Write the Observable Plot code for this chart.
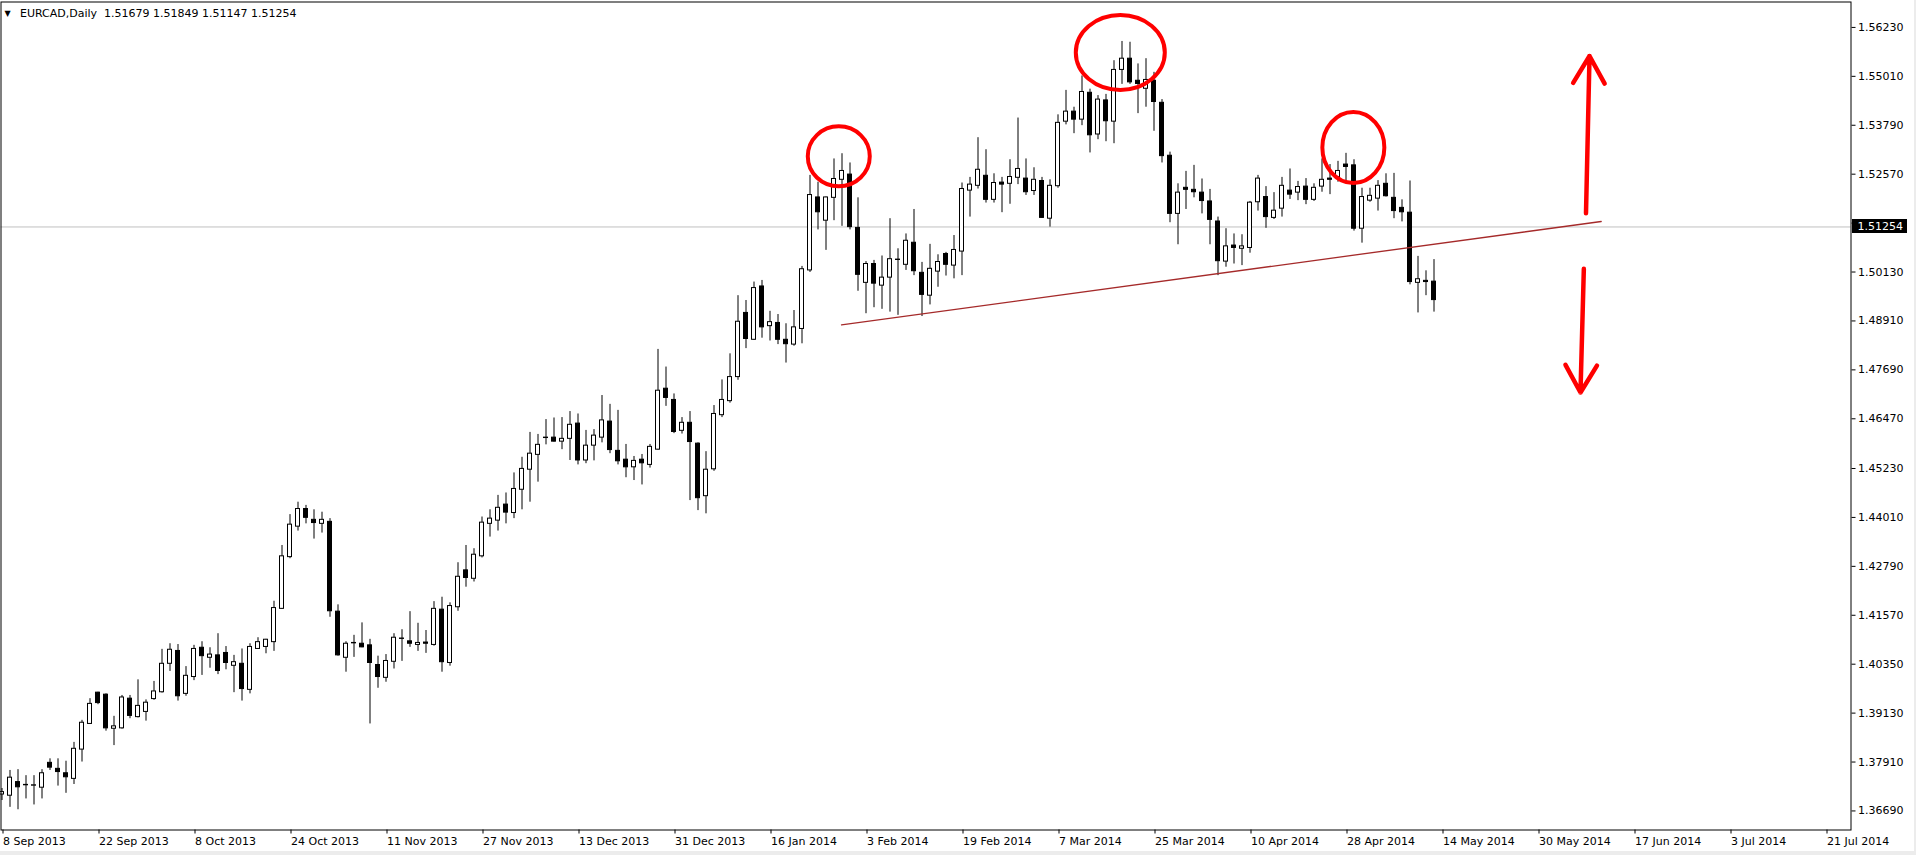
<!DOCTYPE html>
<html>
<head>
<meta charset="utf-8">
<script src="https://cdn.jsdelivr.net/npm/d3@7"></script>
<script src="https://cdn.jsdelivr.net/npm/@observablehq/plot@0.6"></script>
<style>
  html, body { margin: 0; padding: 0; background: #ffffff; }
  #chart { position: relative; width: 1916px; height: 855px; overflow: hidden; }
  #chart svg { display: block; }
  .edge-r { position: absolute; left: 1914px; top: 0; width: 2px; height: 855px; background: #ececec; }
  .edge-b { position: absolute; left: 0; top: 851px; width: 1916px; height: 4px; background: #ececec; }
</style>
</head>
<body>
<div id="chart"><div class="edge-r"></div><div class="edge-b"></div></div>
<script>
// ---------- data ----------
const symbol = "EURCAD,Daily";
const quote = [1.51679, 1.51849, 1.51147, 1.51254];
const bid = 1.51254;

const tickLabels = ["8 Sep 2013","22 Sep 2013","8 Oct 2013","24 Oct 2013","11 Nov 2013","27 Nov 2013",
  "13 Dec 2013","31 Dec 2013","16 Jan 2014","3 Feb 2014","19 Feb 2014","7 Mar 2014","25 Mar 2014",
  "10 Apr 2014","28 Apr 2014","14 May 2014","30 May 2014","17 Jun 2014","3 Jul 2014","21 Jul 2014"];
const tickBars = [0,12,24,36,48,60,72,84,96,108,120,132,144,156,168,180,192,204,216,228];

const priceTicks = [1.56230,1.55010,1.53790,1.52570,1.51350,1.50130,1.48910,1.47690,1.46470,
  1.45230,1.44010,1.42790,1.41570,1.40350,1.39130,1.37910,1.36690];
const hiddenPriceTick = 1.51350; // its label sits under the bid box

const opens = [
1.3710,1.3707,1.3741,1.3733,1.3732,1.3727,1.3789,1.3774,1.3763,1.3749,
1.3822,1.3886,1.3964,1.3959,1.3874,1.3875,1.3949,1.3903,1.3916,1.3948,
1.3965,1.4036,1.4068,1.3961,1.4003,1.4076,1.4051,1.4057,1.4063,1.4031,
1.4036,1.3971,1.4073,1.4078,1.4090,1.4173,1.4302,1.4378,1.4422,1.4395,
1.4385,1.4390,1.4166,1.4051,1.4088,1.4086,1.4082,1.4033,1.4001,1.4041,
1.4098,1.4092,1.4083,1.4089,1.4083,1.4171,1.4038,1.4177,1.4269,1.4248,
1.4304,1.4385,1.4393,1.4433,1.4412,1.4470,1.4520,1.4557,1.4599,1.4600,
1.4590,1.4597,1.4635,1.4543,1.4580,1.4600,1.4640,1.4567,1.4545,1.4526,
1.4545,1.4532,1.4570,1.4722,1.4694,1.4617,1.4637,1.4585,1.4454,1.4521,
1.4656,1.4691,1.4751,1.4911,1.4844,1.4977,1.4878,1.4886,1.4844,1.4832,
1.4871,1.5017,1.5199,1.5141,1.5198,1.5243,1.5256,1.5123,1.4986,1.5033,
1.4979,1.4999,1.5044,1.5031,1.5086,1.5011,1.4954,1.5014,1.5058,1.5029,
1.5064,1.5216,1.5228,1.5253,1.5193,1.5236,1.5233,1.5248,1.5246,1.5215,
1.5240,1.5146,1.5227,1.5388,1.5413,1.5393,1.5460,1.5356,1.5441,1.5388,
1.5517,1.5545,1.5490,1.5470,1.5490,1.5435,1.5303,1.5158,1.5223,1.5218,
1.5211,1.5189,1.5139,1.5039,1.5079,1.5071,1.5073,1.5187,1.5200,1.5148,
1.5171,1.5216,1.5211,1.5226,1.5193,1.5226,1.5246,1.5250,1.5281,1.5279,
1.5121,1.5191,1.5196,1.5233,1.5198,1.5173,1.5161,1.4986,1.4991,1.4989];

const highs = [
1.3725,1.3770,1.3772,1.3757,1.3757,1.3772,1.3799,1.3799,1.3793,1.3840,
1.3895,1.3949,1.3965,1.3961,1.3905,1.3957,1.3957,1.3996,1.3946,1.3992,
1.4072,1.4086,1.4084,1.4029,1.4082,1.4091,1.4076,1.4111,1.4079,1.4057,
1.4073,1.4086,1.4101,1.4097,1.4192,1.4331,1.4408,1.4439,1.4431,1.4420,
1.4414,1.4398,1.4183,1.4091,1.4107,1.4138,1.4097,1.4055,1.4059,1.4111,
1.4121,1.4166,1.4137,1.4119,1.4191,1.4202,1.4188,1.4288,1.4331,1.4323,
1.4402,1.4420,1.4456,1.4462,1.4512,1.4551,1.4613,1.4608,1.4645,1.4649,
1.4650,1.4665,1.4659,1.4618,1.4620,1.4705,1.4683,1.4668,1.4583,1.4553,
1.4558,1.4583,1.4820,1.4776,1.4709,1.4650,1.4665,1.4587,1.4565,1.4680,
1.4744,1.4809,1.4954,1.4942,1.4988,1.4992,1.4915,1.4907,1.4884,1.4917,
1.5027,1.5254,1.5237,1.5200,1.5295,1.5308,1.5285,1.5198,1.5039,1.5042,
1.5053,1.5146,1.5071,1.5108,1.5169,1.5037,1.5082,1.5056,1.5062,1.5104,
1.5235,1.5249,1.5348,1.5318,1.5258,1.5249,1.5293,1.5397,1.5295,1.5273,
1.5249,1.5243,1.5405,1.5466,1.5424,1.5502,1.5469,1.5453,1.5456,1.5540,
1.5588,1.5586,1.5532,1.5545,1.5511,1.5443,1.5312,1.5233,1.5264,1.5279,
1.5245,1.5219,1.5150,1.5121,1.5108,1.5106,1.5189,1.5254,1.5226,1.5211,
1.5249,1.5270,1.5239,1.5246,1.5233,1.5295,1.5281,1.5289,1.5309,1.5293,
1.5222,1.5222,1.5241,1.5258,1.5259,1.5193,1.5240,1.5052,1.5016,1.5044];

const lows = [
1.3695,1.3678,1.3672,1.3699,1.3684,1.3699,1.3770,1.3731,1.3713,1.3735,
1.3791,1.3885,1.3934,1.3868,1.3832,1.3873,1.3899,1.3901,1.3893,1.3945,
1.3963,1.4017,1.3943,1.3955,1.3994,1.4007,1.4025,1.4009,1.4021,1.3964,
1.3943,1.3961,1.4072,1.4061,1.4067,1.4172,1.4298,1.4367,1.4385,1.4347,
1.4362,1.4152,1.4055,1.4015,1.4052,1.4076,1.3886,1.3975,1.3990,1.4023,
1.4042,1.4077,1.4067,1.4062,1.4080,1.4015,1.4030,1.4167,1.4227,1.4240,
1.4300,1.4352,1.4367,1.4385,1.4398,1.4420,1.4439,1.4489,1.4582,1.4589,
1.4570,1.4543,1.4532,1.4535,1.4542,1.4587,1.4560,1.4532,1.4500,1.4493,
1.4482,1.4524,1.4569,1.4678,1.4610,1.4609,1.4443,1.4418,1.4410,1.4516,
1.4650,1.4686,1.4743,1.4822,1.4843,1.4848,1.4841,1.4832,1.4786,1.4828,
1.4834,1.5012,1.5118,1.5067,1.5141,1.5127,1.5118,1.4965,1.4909,1.4924,
1.4920,1.4913,1.4905,1.5017,1.5004,1.4902,1.4931,1.4975,1.5003,1.4996,
1.5004,1.5150,1.5220,1.5185,1.5185,1.5161,1.5182,1.5231,1.5204,1.5204,
1.5147,1.5125,1.5222,1.5380,1.5358,1.5378,1.5310,1.5343,1.5338,1.5333,
1.5481,1.5481,1.5408,1.5424,1.5364,1.5285,1.5136,1.5081,1.5169,1.5198,
1.5158,1.5081,1.5004,1.5025,1.5033,1.5029,1.5060,1.5165,1.5122,1.5144,
1.5150,1.5194,1.5191,1.5181,1.5189,1.5212,1.5206,1.5237,1.5241,1.5115,
1.5085,1.5187,1.5165,1.5200,1.5146,1.5138,1.4981,1.4911,1.4954,1.4913];

const closes = [
1.3716,1.3752,1.3728,1.3734,1.3733,1.3763,1.3777,1.3766,1.3753,1.3824,
1.3889,1.3936,1.3938,1.3875,1.3880,1.3952,1.3906,1.3931,1.3939,1.3967,
1.4036,1.4071,1.3955,1.4006,1.4073,1.4055,1.4059,1.4018,1.4038,1.4040,
1.3973,1.4078,1.4090,1.4096,1.4175,1.4304,1.4383,1.4422,1.4400,1.4387,
1.4395,1.4167,1.4057,1.4086,1.4087,1.4077,1.4038,1.4003,1.4043,1.4101,
1.4099,1.4086,1.4088,1.4086,1.4173,1.4040,1.4180,1.4253,1.4250,1.4308,
1.4388,1.4398,1.4425,1.4413,1.4472,1.4522,1.4560,1.4582,1.4600,1.4590,
1.4597,1.4632,1.4543,1.4580,1.4605,1.4643,1.4569,1.4541,1.4526,1.4542,
1.4536,1.4577,1.4717,1.4699,1.4614,1.4637,1.4589,1.4449,1.4520,1.4659,
1.4694,1.4751,1.4889,1.4846,1.4973,1.4875,1.4888,1.4844,1.4833,1.4875,
1.5020,1.5205,1.5162,1.5199,1.5245,1.5265,1.5125,1.5006,1.5033,1.4984,
1.4999,1.5045,1.5043,1.5091,1.5015,1.4956,1.5021,1.5038,1.5031,1.5068,
1.5220,1.5231,1.5268,1.5193,1.5235,1.5231,1.5250,1.5270,1.5212,1.5243,
1.5148,1.5228,1.5385,1.5413,1.5393,1.5462,1.5354,1.5443,1.5389,1.5517,
1.5545,1.5486,1.5482,1.5492,1.5437,1.5302,1.5158,1.5211,1.5218,1.5212,
1.5190,1.5143,1.5040,1.5077,1.5073,1.5077,1.5186,1.5246,1.5150,1.5166,
1.5228,1.5206,1.5225,1.5193,1.5223,1.5243,1.5243,1.5265,1.5275,1.5121,
1.5200,1.5203,1.5228,1.5202,1.5165,1.5162,1.4988,1.4995,1.4988,1.4943];

// annotations (bar index, price)
const trendBars = [104.94, 199.9];
const trendPrices = [1.48814, 1.51390];
const circleBars = [104.66, 139.85, 168.98];
const circlePrices = [1.53003, 1.55592, 1.53223];
const arrowFromBars = [198.0, 197.73];
const arrowFromPrices = [1.51597, 1.50210];
const arrowToBars = [198.44, 197.31];
const arrowToPrices = [1.55517, 1.47125];

// ---------- chart ----------
const candles = opens.map((o, i) => ({i, open: o, high: highs[i], low: lows[i], close: closes[i]}));
const fmt = d3.format(".5f");
const FONT = "DejaVu Sans, Verdana, sans-serif";
const RED = "#ff0000";
const ellipseR = [[31, 30], [44.5, 37.5], [31, 35.5]];

const chart = Plot.plot({
  width: 1916,
  height: 855,
  marginLeft: 0.5,
  marginRight: 65.5,
  marginTop: 1.5,
  marginBottom: 25.5,
  x: {domain: [-0.125, 231.125], axis: null, label: null},
  y: {domain: [1.36215, 1.56864], axis: null, label: null},
  color: {type: "identity"},
  style: {fontFamily: FONT, fontSize: "11px", color: "#000", background: "transparent", overflow: "visible"},
  marks: [
    Plot.ruleY([bid], {stroke: "#c0c0c0", strokeWidth: 1}),
    Plot.ruleX(candles, {x: "i", y1: "low", y2: "high", stroke: "#000", strokeWidth: 1}),
    Plot.rect(candles, {
      x1: d => d.i - 0.25, x2: d => d.i + 0.25,
      y1: "open", y2: "close",
      fill: d => d.close >= d.open ? "#ffffff" : "#000000",
      stroke: "#000", strokeWidth: 1
    }),
    Plot.line(trendBars, {x: trendBars, y: trendPrices, stroke: "#a52a2a", strokeWidth: 1.3}),
    (index, scales) => {
      const g = d3.create("svg:g");
      circleBars.forEach((b, k) => {
        g.append("ellipse")
          .attr("cx", scales.x(b)).attr("cy", scales.y(circlePrices[k]))
          .attr("rx", ellipseR[k][0]).attr("ry", ellipseR[k][1])
          .attr("fill", "none").attr("stroke", RED).attr("stroke-width", 4);
      });
      return g.node();
    },
    Plot.arrow(arrowFromBars, {
      x1: arrowFromBars, y1: arrowFromPrices, x2: arrowToBars, y2: arrowToPrices,
      stroke: RED, strokeWidth: 4.5, headLength: 10.5, headAngle: 60
    }),
    Plot.frame({stroke: "#000"}),
    Plot.axisY(priceTicks, {
      anchor: "right", tickSize: 4, tickPadding: 3, label: null,
      tickFormat: d => d === hiddenPriceTick ? "" : fmt(d),
      fontSize: 11, stroke: "#000", fill: "#000"
    }),
    Plot.axisX(tickBars, {
      anchor: "bottom", tickSize: 4, tickPadding: 3, textAnchor: "start", dx: 1, label: null,
      tickFormat: d => tickLabels[tickBars.indexOf(d)],
      fontSize: 11, stroke: "#000", fill: "#000"
    }),
    (index, scales, values, dims) => {
      const y = scales.y(bid);
      const x0 = dims.width - dims.marginRight;
      const g = d3.create("svg:g");
      g.append("rect").attr("x", x0 + 1.5).attr("y", Math.round(y) - 7)
        .attr("width", 55).attr("height", 14).attr("fill", "#000");
      g.append("text").attr("x", x0 + 7).attr("y", y).attr("dy", "0.35em")
        .attr("text-anchor", "start")
        .attr("fill", "#fff").attr("font-size", 11).attr("font-family", FONT)
        .text(fmt(bid));
      return g.node();
    },
    Plot.text(["\u25BC"], {frameAnchor: "top-left", dx: 6.5, dy: 11, text: d => d,
      fontSize: 8, textAnchor: "middle", lineAnchor: "middle", fill: "#000"}),
    Plot.text([symbol + "\u00a0\u00a0" + quote.map(fmt).join(" ")], {
      frameAnchor: "top-left", dx: 19, dy: 11, text: d => d,
      fontSize: 11, textAnchor: "start", lineAnchor: "middle", fill: "#000"})
  ]
});
document.getElementById("chart").prepend(chart);
</script>
</body>
</html>
